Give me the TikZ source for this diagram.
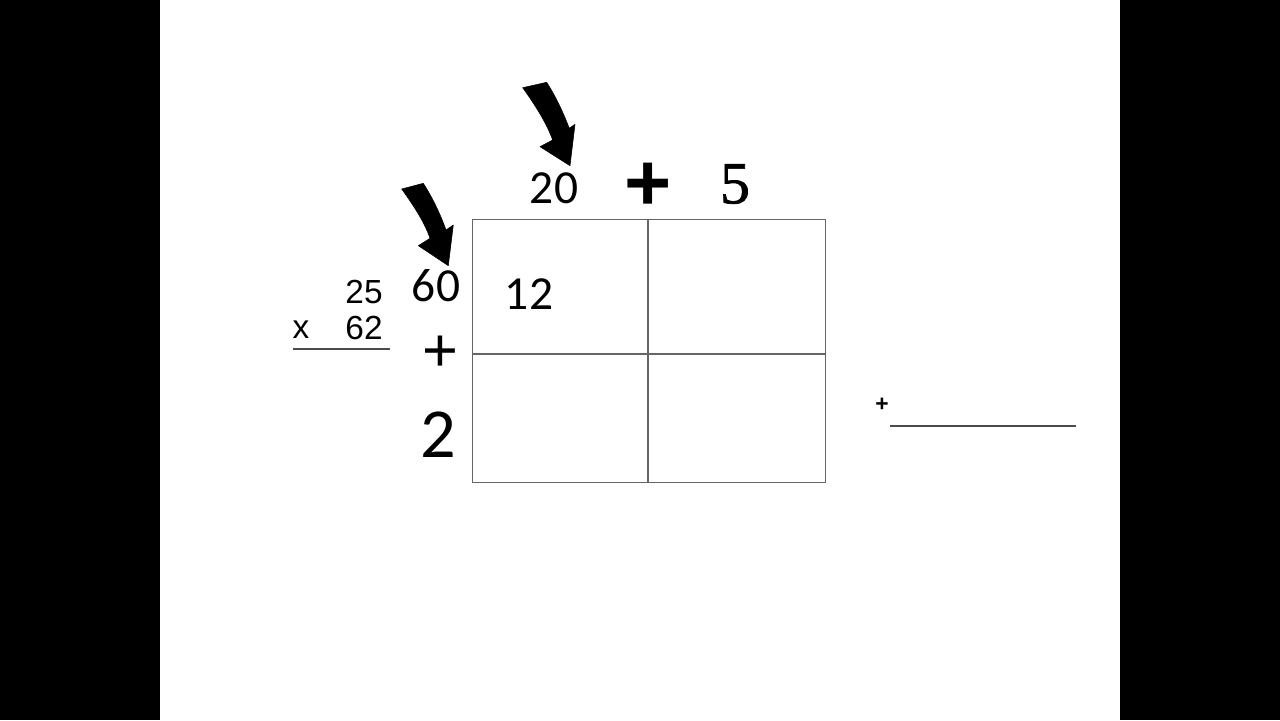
\documentclass[tikz,border=0pt]{standalone}
\usepackage{fontspec}
\setmainfont{Carlito}
\newfontfamily\arialf{Liberation Sans}
\newfontfamily\timesf[FakeBold=1.2]{Liberation Serif}
\begin{document}
\begin{tikzpicture}[x=0.02cm,y=-0.02cm,
  lbl/.style={inner sep=0pt,anchor=center},
  gridline/.style={draw=black!60,line width=0.6pt},
  blockarrow/.style={fill=black,draw=black,line width=0.3pt,line join=round}]
\useasboundingbox (0,0) rectangle (1280,720);
\fill[black] (0,0) rectangle (160,720);
\fill[black] (1120,0) rectangle (1280,720);
\fill[white] (160,0) rectangle (1120,720);
% grid
\node[gridline,minimum width=353*0.02cm,minimum height=263*0.02cm,inner sep=0pt,anchor=north west] (box) at (472,219) {};
\coordinate (vt) at (648,219);
\coordinate (vb) at (648,482);
\coordinate (hl) at (472,354);
\coordinate (hr) at (825,354);
\draw[gridline] (vt) -- (vb);
\draw[gridline] (hl) -- (hr);
% labels
\node[lbl,font=\fontsize{27}{30}\selectfont] (t20) at (554,188) {20};
\node[lbl,font=\fontsize{46}{48}\bfseries\arialf] (tplus) at (648,187) {+};
\node[lbl,font=\fontsize{34}{36}\timesf] (t5) at (735,184) {5};
\node[lbl,font=\fontsize{27}{30}\selectfont] (t60) at (436,286) {60};
\node[lbl,font=\fontsize{27}{30}\selectfont] (t12) at (529,294) {12};
\node[lbl,font=\fontsize{35}{37}\arialf] (lplus) at (440,354) {+};
\node[lbl,font=\fontsize{40}{42}\selectfont] (t2) at (438,435) {2};
\node[lbl,font=\fontsize{19}{21}\arialf] (m25) at (364,292) {25};
\node[lbl,font=\fontsize{19}{21}\arialf] (m62) at (364,328) {62};
\node[lbl,font=\fontsize{19}{21}\arialf] (mx) at (301,330) {x};
\coordinate (ul1) at (293,349);
\coordinate (ul2) at (390,349);
\draw[black!70,line width=1.4pt] (ul1) -- (ul2);
\node[lbl,font=\fontsize{13}{14}\bfseries\arialf] (splus) at (882,405) {+};
\coordinate (sl1) at (890,426);
\coordinate (sl2) at (1076,426);
\draw[black!70,line width=1.4pt] (sl1) -- (sl2);
% block arrows
\fill[blockarrow] (522.7,87.7) .. controls (535,105) and (546,122) .. (552.7,140)
  -- (540,146.7) -- (570,165.7) -- (575,124.3) -- (569.3,128.3)
  .. controls (563,112) and (556,97) .. (546.7,82.3) -- cycle;
\fill[blockarrow] (401.7,189) .. controls (413,205) and (424,221) .. (430,238.3)
  -- (418.3,245.7) -- (448.3,265.7) -- (453.3,225) -- (446,230)
  .. controls (440,213) and (432,197) .. (423.3,183.3) -- cycle;
\end{tikzpicture}
\end{document}
